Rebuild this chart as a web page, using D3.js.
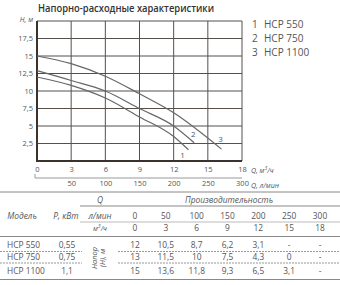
<!DOCTYPE html>
<html>
<head>
<meta charset="utf-8">
<script src="https://cdn.jsdelivr.net/npm/d3@7"></script>
<style>
  body { margin: 0; background: #fff; }
  svg { display: block; font-family: "Open Sans", sans-serif; }
</style>
</head>
<body>
<div id="chart"></div>
<script>
// curves (Q in m3/h, H in m)
const curveNames = ["1", "2", "3"];
const q550 = [0, 3, 6, 9, 12, 13.3];
const h550 = [12, 10.8, 9.0, 6.3, 3.5, 1.6];
const q750 = [0, 3, 6, 9, 12, 13.8];
const h750 = [12.9, 11.5, 10.0, 7.5, 5.0, 2.6];
const q1100 = [0, 3, 6, 9, 12, 16.2];
const h1100 = [15, 13.9, 12.1, 9.6, 6.9, 1.7];

const xTicks = [0, 3, 6, 9, 12, 15, 18];
const xTicksL = [50, 100, 150, 200, 250, 300];
const yTicks = [2.5, 5, 7.5, 10, 12.5, 15, 17.5];

// table
const models = ["HCP 550", "HCP 750", "HCP 1100"];
const power = [0.55, 0.75, 1.1];
const flowLmin = [0, 50, 100, 150, 200, 250, 300];
const flowM3h = [0, 3, 6, 9, 12, 15, 18];
const head550 = [12, 10.5, 8.7, 6.2, 3.1, null, null];
const head750 = [13, 11.5, 10, 7.5, 4.3, 0, null];
const head1100 = [15, 13.6, 11.8, 9.3, 6.5, 3.1, null];

const W = 340, H = 285;
const ru = v => String(v).replace(".", ",");
const txt = "#555";

const svg = d3.select("#chart").append("svg")
  .attr("width", W).attr("height", H);

svg.append("text")
  .attr("x", 38).attr("y", 12)
  .attr("font-size", 11.5).attr("font-weight", 600).attr("fill", "#333")
  .attr("textLength", 176).attr("lengthAdjust", "spacingAndGlyphs")
  .text("Напорно-расходные характеристики");

const x = d3.scaleLinear().domain([0, 18]).range([37, 242]);
const y = d3.scaleLinear().domain([0, 20]).range([161, 21]);

// grid
const g = svg.append("g");
g.selectAll(".vg").data(xTicks.slice(1)).enter().append("line")
  .attr("x1", d => x(d)).attr("x2", d => x(d))
  .attr("y1", y(0)).attr("y2", y(20))
  .attr("stroke", "#55504c").attr("stroke-width", 1);
g.selectAll(".hg").data(yTicks.concat([20])).enter().append("line")
  .attr("x1", x(0)).attr("x2", x(18))
  .attr("y1", d => y(d)).attr("y2", d => y(d))
  .attr("stroke", "#55504c").attr("stroke-width", 1);

// axes
g.append("line").attr("x1", x(0)).attr("x2", x(0)).attr("y1", y(0)).attr("y2", y(20))
  .attr("stroke", "#3a322c").attr("stroke-width", 2);
g.append("line").attr("x1", x(0) - 1).attr("x2", x(18)).attr("y1", y(0)).attr("y2", y(0))
  .attr("stroke", "#3a322c").attr("stroke-width", 2);

const yAxis = svg.append("g").attr("transform", "translate(" + x(0) + ",0)")
  .call(d3.axisLeft(y).tickValues(yTicks).tickSize(0).tickPadding(4).tickFormat(ru));
yAxis.select(".domain").remove();
yAxis.selectAll("text").attr("font-size", 7.5).attr("fill", txt).attr("font-family", "Open Sans");

svg.append("text").attr("x", 33).attr("y", 22).attr("text-anchor", "end")
  .attr("font-size", 7).attr("font-style", "italic").attr("fill", txt).text("H, м");

const xAxis = svg.append("g").attr("transform", "translate(0," + y(0) + ")")
  .call(d3.axisBottom(x).tickValues(xTicks).tickSize(0).tickPadding(6));
xAxis.select(".domain").remove();
xAxis.selectAll("text").attr("font-size", 7.5).attr("fill", txt).attr("font-family", "Open Sans");

// second flow scale in l/min
const xl = d3.scaleLinear().domain([0, 300]).range([37, 242]);
const xlAxis = svg.append("g").attr("transform", "translate(0,178)")
  .call(d3.axisBottom(xl).tickValues(xTicksL).tickSize(0).tickPadding(3));
xlAxis.select(".domain").attr("d", "M35,-4V0H" + xl(300)).attr("stroke", "#999").attr("fill", "none");
xlAxis.selectAll("text").attr("font-size", 7.5).attr("fill", txt).attr("font-family", "Open Sans");

const unit1 = svg.append("text").attr("x", 251).attr("y", 173)
  .attr("font-size", 7).attr("font-style", "italic").attr("fill", txt);
unit1.append("tspan").text("Q, м");
unit1.append("tspan").attr("font-size", 5).attr("dy", -3).text("3");
unit1.append("tspan").attr("dy", 3).text("/ч");
svg.append("text").attr("x", 251).attr("y", 188)
  .attr("font-size", 7).attr("font-style", "italic").attr("fill", txt).text("Q, л/мин");

// curves
const curves = [[q550, h550], [q750, h750], [q1100, h1100]];
const line = d3.line().x(d => x(d[0])).y(d => y(d[1])).curve(d3.curveMonotoneX);
svg.selectAll(".curve").data(curves).enter().append("path")
  .attr("d", c => line(c[0].map((q, i) => [q, c[1][i]])))
  .attr("fill", "none").attr("stroke", "#666").attr("stroke-width", 1.2);

const labelOff = [[-6, 8], [-1, -6], [-1, -7]];
svg.selectAll(".clab").data(curves).enter().append("text")
  .attr("x", (c, i) => x(c[0][c[0].length - 1]) + labelOff[i][0])
  .attr("y", (c, i) => y(c[1][c[1].length - 1]) + labelOff[i][1])
  .attr("font-size", 8).attr("fill", txt).attr("text-anchor", "middle")
  .text((c, i) => curveNames[i]);

// legend
const leg = svg.selectAll(".leg").data(models).enter().append("g")
  .attr("transform", (d, i) => "translate(252," + (27.5 + i * 14.3) + ")");
leg.append("text").attr("font-size", 10).attr("fill", txt).text((d, i) => curveNames[i]);
leg.append("text").attr("x", 12).attr("font-size", 10).attr("fill", txt).text(d => d);

// table
const t = svg.append("g").attr("font-size", 8.4).attr("fill", txt);
const cx = d3.scalePoint().domain(flowLmin).range([135, 320]);
const hline = (x1, x2, yy, dash, col) => t.append("line")
  .attr("x1", x1).attr("x2", x2).attr("y1", yy).attr("y2", yy)
  .attr("stroke", col || "#888").attr("stroke-width", 1)
  .attr("stroke-dasharray", dash || null);

hline(0, 340, 192);
hline(80, 340, 206);
hline(80, 340, 222, null, "#bbb");
hline(0, 340, 236.5);
hline(0, 82, 251.5, "2,1", "#999"); hline(118, 340, 251.5, "2,1", "#999");
hline(0, 82, 263, "2,1", "#999"); hline(118, 340, 263, "2,1", "#999");
hline(0, 340, 279.5);

const it = (xx, yy, s, anchor) => t.append("text").attr("x", xx).attr("y", yy)
  .attr("font-style", "italic").attr("text-anchor", anchor || "middle").text(s);
it(100, 203, "Q");
it(229, 203, "Производительность");
it(22, 218.5, "Модель");
it(66, 218.5, "P, кВт");
it(100, 218.5, "л/мин");
const m3 = it(100, 231, "м");
m3.attr("font-size", 7);
m3.append("tspan").attr("font-size", 5).attr("dy", -3).text("3");
m3.append("tspan").attr("dy", 3).text("/ч");

t.selectAll(".fl").data(flowLmin).enter().append("text")
  .attr("x", d => cx(d)).attr("y", 218.5).attr("text-anchor", "middle").text(d => d);
t.selectAll(".fm").data(flowM3h).enter().append("text")
  .attr("x", (d, i) => cx(flowLmin[i])).attr("y", 231).attr("text-anchor", "middle").text(d => d);

const heads = [head550, head750, head1100];
const rowY = [247.5, 259.5, 274];
models.forEach((m, r) => {
  t.append("text").attr("x", 7).attr("y", rowY[r]).text(m);
  t.append("text").attr("x", 67).attr("y", rowY[r]).attr("text-anchor", "middle").text(ru(power[r]));
  t.selectAll(".v" + r).data(heads[r]).enter().append("text")
    .attr("x", (d, i) => cx(flowLmin[i])).attr("y", rowY[r]).attr("text-anchor", "middle")
    .text(d => d === null ? "-" : ru(d));
});

const rot = t.append("text").attr("transform", "translate(98,258) rotate(-90)")
  .attr("font-style", "italic").attr("font-size", 7.5).attr("text-anchor", "middle");
rot.append("tspan").attr("x", 0).attr("dy", -1).text("Напор");
rot.append("tspan").attr("x", 0).attr("dy", 7.5).text("(Н), м");
</script>
</body>
</html>
